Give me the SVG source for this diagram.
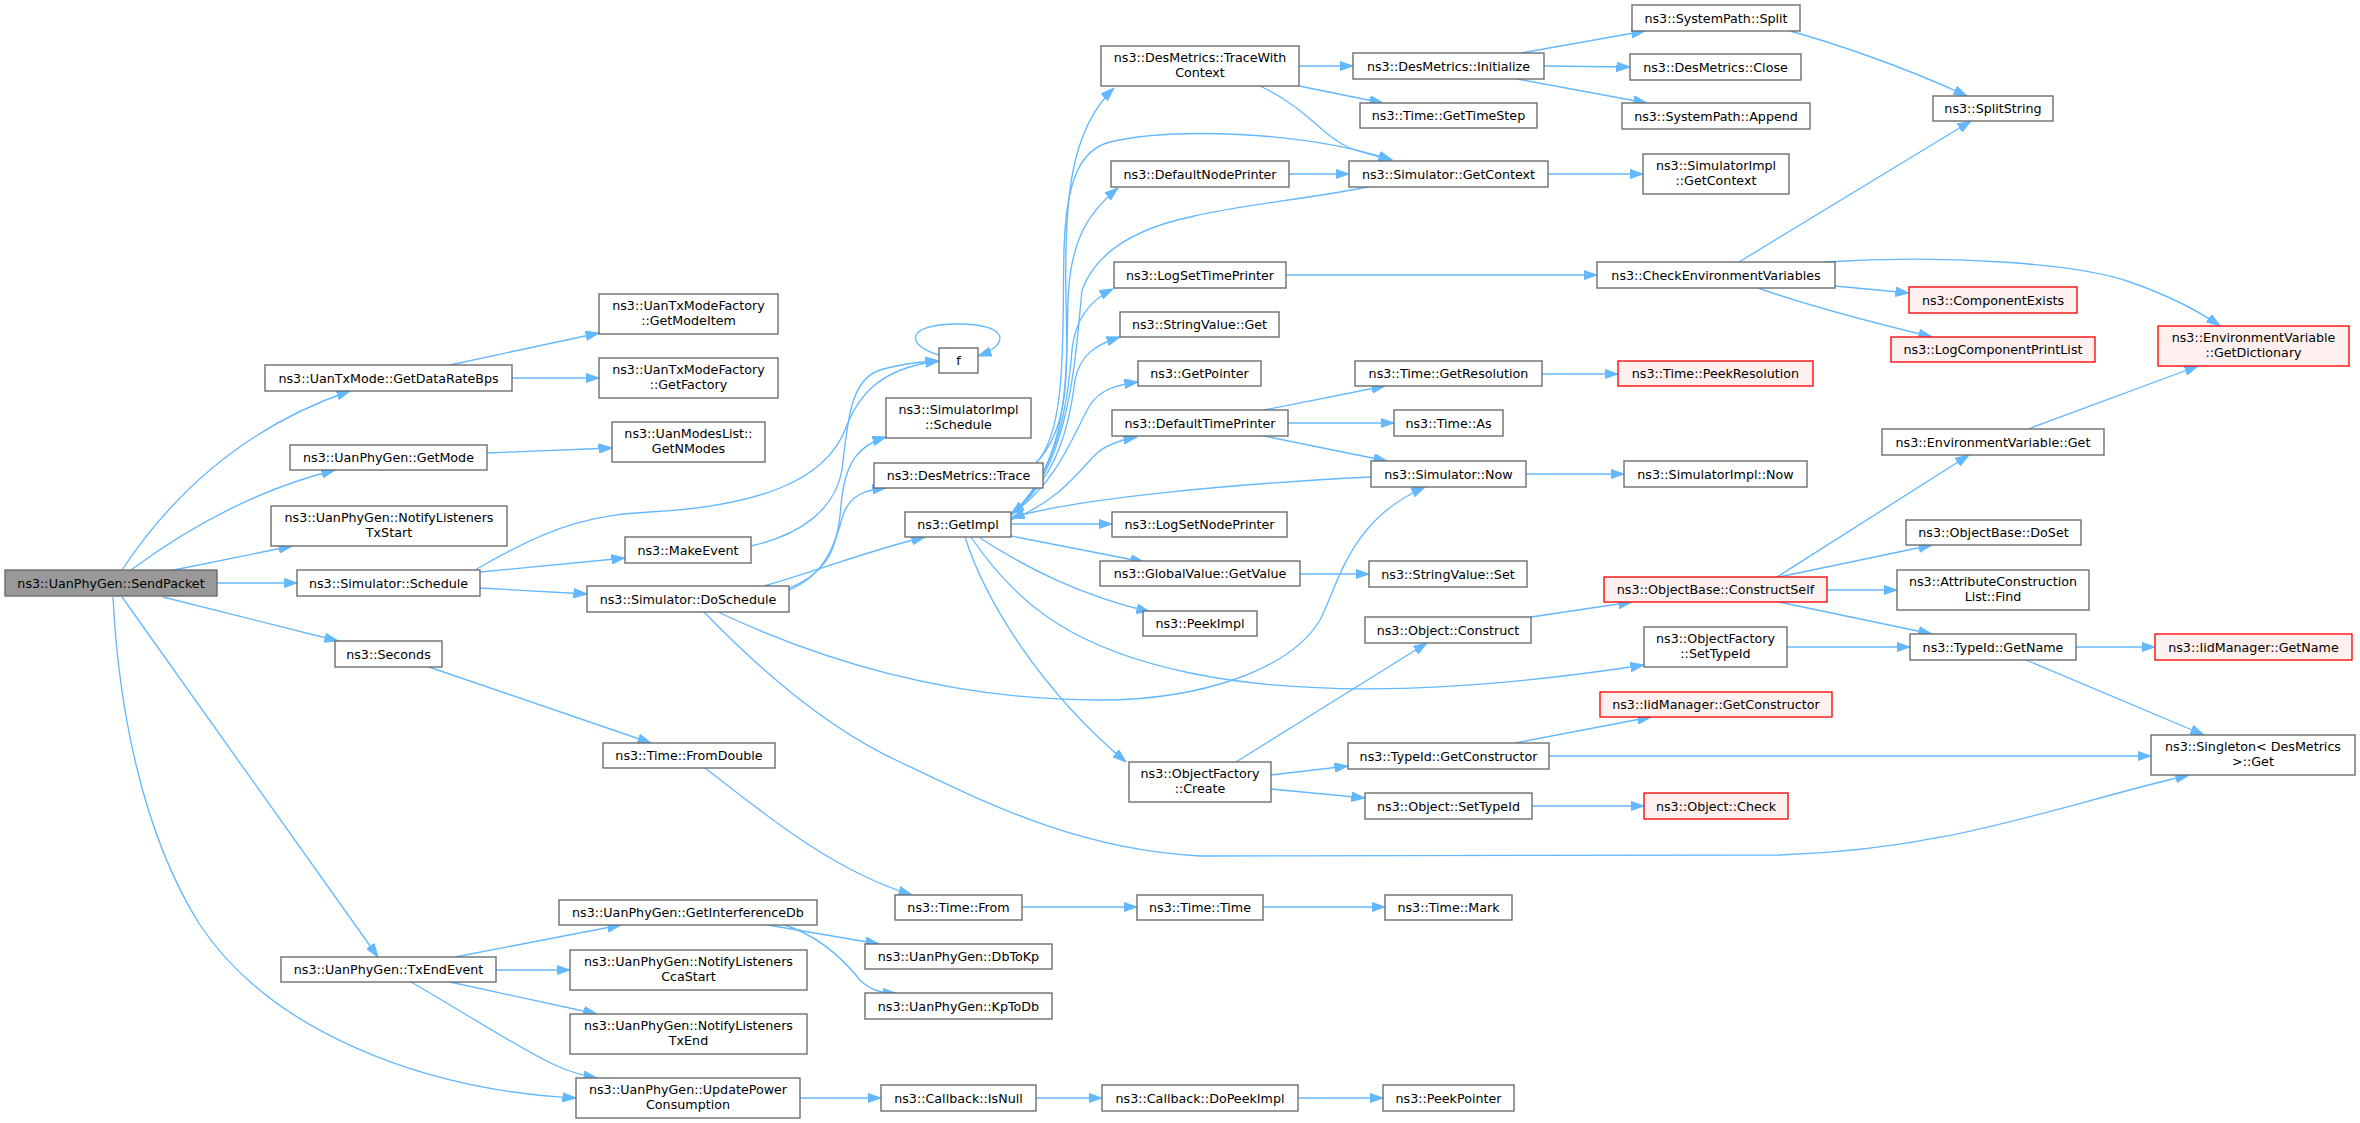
<svg xmlns="http://www.w3.org/2000/svg" width="2360" height="1123" viewBox="0 0 2360 1123">
<style>
.node rect{fill:#ffffff;stroke:#666666;stroke-width:1.33}
.node.red rect{fill:#fff0f0;stroke:#ff0000}
.node.cur rect{fill:#999999;stroke:#666666}
text{font-family:"DejaVu Sans",sans-serif;font-size:12.7px;text-anchor:middle;fill:#000000}
.edges path{fill:none;stroke:#63b8ff;stroke-width:1.33;marker-end:url(#a)}
</style>
<defs>
<marker id="a" markerUnits="userSpaceOnUse" markerWidth="14" markerHeight="10" refX="13.5" refY="5" orient="auto" viewBox="0 0 14 10">
<path d="M0,0.3 L13.5,5 L0,9.7 z" fill="#63b8ff" stroke="#63b8ff" stroke-width="1"/>
</marker>
</defs>
<rect width="2360" height="1123" fill="#ffffff"/>
<g id="edges" class="edges">
<path d="M122,570 C175,490 250,425 350,391"/>
<path d="M131,570 C185,530 255,490 335,470"/>
<path d="M174,570 L292,546"/>
<path d="M217,583 L297,583"/>
<path d="M163,597 L338,641"/>
<path d="M122,597 L378,957"/>
<path d="M113,597 C118,700 140,830 200,925 C270,1030 420,1090 576,1098"/>
<path d="M450,365 L599,333"/>
<path d="M512,378 L599,378"/>
<path d="M487,453 L612,448"/>
<path d="M475,570 C560,520 600,515 650,512 C760,506 825,480 845,430 C858,395 880,368 939,361"/>
<path d="M751,546 C800,535 835,510 842,470 C848,420 850,380 880,370 C905,363 920,362 939,361"/>
<path d="M939,355 C905,345 905,324 958,324 C1010,324 1010,345 978,356"/>
<path d="M480,572 L625,558"/>
<path d="M480,588 L587,594"/>
<path d="M789,588 C830,572 838,545 841,505 C845,460 860,445 886,437"/>
<path d="M789,590 C825,575 835,545 843,515 C850,495 865,490 886,488"/>
<path d="M764,586 C820,570 870,550 925,537"/>
<path d="M718,612 C820,660 950,700 1100,700 C1200,700 1290,670 1320,620 C1340,580 1350,520 1425,487"/>
<path d="M704,612 C760,670 830,730 900,762 C990,805 1080,850 1200,856 L1780,855 C1950,850 2060,805 2189,775"/>
<path d="M965,537 C985,600 1040,690 1126,762"/>
<path d="M971,537 C1020,610 1080,650 1190,673 C1320,700 1480,690 1644,665"/>
<path d="M1036,463 C1068,430 1068,380 1066,300 C1064,200 1070,130 1114,88"/>
<path d="M1036,463 C1068,430 1062,330 1064,250 C1066,180 1080,150 1110,142 C1170,128 1300,130 1392,160"/>
<path d="M1260,86 C1310,110 1320,135 1350,148 C1365,154 1380,157 1392,160"/>
<path d="M1368,187 C1300,200 1240,205 1190,217 C1130,230 1095,255 1082,290 C1075,360 1070,470 1011,514"/>
<path d="M1371,477 C1250,483 1080,497 1011,518"/>
<path d="M1011,515 C1070,460 1066,380 1068,300 C1070,245 1085,215 1118,188"/>
<path d="M1011,515 C1060,470 1068,400 1072,350 C1075,320 1090,300 1113,289"/>
<path d="M1011,515 C1060,475 1070,420 1075,380 C1080,355 1095,345 1120,337"/>
<path d="M1011,515 C1060,480 1075,430 1090,405 C1100,390 1115,385 1138,382"/>
<path d="M1011,520 C1060,500 1080,470 1095,455 C1105,445 1120,440 1137,437"/>
<path d="M1011,524 L1112,524"/>
<path d="M1011,536 L1144,562"/>
<path d="M980,538 C1030,570 1080,595 1150,612"/>
<path d="M1299,66 L1353,66"/>
<path d="M1299,86 L1383,103"/>
<path d="M1521,53 L1645,31"/>
<path d="M1544,66 L1630,67"/>
<path d="M1517,79 L1647,103"/>
<path d="M1790,31 C1830,42 1900,65 1967,96"/>
<path d="M1548,174 L1643,174"/>
<path d="M1289,174 L1349,174"/>
<path d="M1286,275 L1597,275"/>
<path d="M1739,262 C1820,212 1900,165 1971,121"/>
<path d="M1825,262 C1950,254 2080,264 2130,282 C2170,296 2200,312 2220,326"/>
<path d="M1835,286 L1909,293"/>
<path d="M1758,288 C1800,303 1870,322 1932,337"/>
<path d="M1264,410 L1385,386"/>
<path d="M1288,423 L1394,423"/>
<path d="M1264,436 L1387,461"/>
<path d="M1542,374 L1618,374"/>
<path d="M1526,474 L1624,474"/>
<path d="M1300,574 L1369,574"/>
<path d="M1531,617 L1632,602"/>
<path d="M1777,577 L1969,455"/>
<path d="M1779,577 L1932,545"/>
<path d="M1827,590 L1897,590"/>
<path d="M1779,602 L1932,634"/>
<path d="M1787,647 L1910,647"/>
<path d="M2076,647 L2155,647"/>
<path d="M2026,660 L2204,735"/>
<path d="M2028,429 L2198,366"/>
<path d="M1236,762 L1427,643"/>
<path d="M1271,775 L1348,766"/>
<path d="M1271,789 L1365,798"/>
<path d="M1515,743 L1651,717"/>
<path d="M1549,756 L2151,756"/>
<path d="M1532,806 L1644,806"/>
<path d="M429,667 L651,743"/>
<path d="M705,768 C760,810 830,870 912,895"/>
<path d="M1022,907 L1137,907"/>
<path d="M1263,907 L1385,907"/>
<path d="M455,957 L621,925"/>
<path d="M496,970 L570,970"/>
<path d="M450,982 L597,1014"/>
<path d="M411,982 C460,1010 530,1055 555,1065 C570,1072 585,1076 597,1078"/>
<path d="M768,925 L879,944"/>
<path d="M785,925 C815,935 840,955 860,980 C870,990 880,993 896,993"/>
<path d="M800,1098 L881,1098"/>
<path d="M1036,1098 L1102,1098"/>
<path d="M1298,1098 L1383,1098"/>
</g>
<g id="n1" class="node cur"><rect x="5" y="570" width="212" height="26"/><text x="111" y="587.5">ns3::UanPhyGen::SendPacket</text></g>
<g id="n2" class="node"><rect x="265" y="365" width="247" height="26"/><text x="388.5" y="382.5">ns3::UanTxMode::GetDataRateBps</text></g>
<g id="n3" class="node"><rect x="290" y="445" width="197" height="25"/><text x="388.5" y="462">ns3::UanPhyGen::GetMode</text></g>
<g id="n4" class="node"><rect x="271" y="506" width="236" height="40"/><text x="389" y="522">ns3::UanPhyGen::NotifyListeners</text><text x="389" y="537">TxStart</text></g>
<g id="n5" class="node"><rect x="297" y="570" width="183" height="26"/><text x="388.5" y="587.5">ns3::Simulator::Schedule</text></g>
<g id="n6" class="node"><rect x="335" y="641" width="107" height="26"/><text x="388.5" y="658.5">ns3::Seconds</text></g>
<g id="n7" class="node"><rect x="281" y="957" width="215" height="25"/><text x="388.5" y="974">ns3::UanPhyGen::TxEndEvent</text></g>
<g id="n8" class="node"><rect x="599" y="294" width="179" height="40"/><text x="688.5" y="310">ns3::UanTxModeFactory</text><text x="688.5" y="325">::GetModeItem</text></g>
<g id="n9" class="node"><rect x="599" y="358" width="179" height="40"/><text x="688.5" y="374">ns3::UanTxModeFactory</text><text x="688.5" y="389">::GetFactory</text></g>
<g id="n10" class="node"><rect x="612" y="422" width="153" height="40"/><text x="688.5" y="438">ns3::UanModesList::</text><text x="688.5" y="453">GetNModes</text></g>
<g id="n11" class="node"><rect x="939" y="348" width="39" height="25"/><text x="958.5" y="365">f</text></g>
<g id="n12" class="node"><rect x="625" y="537" width="126" height="26"/><text x="688" y="554.5">ns3::MakeEvent</text></g>
<g id="n13" class="node"><rect x="587" y="586" width="202" height="26"/><text x="688" y="603.5">ns3::Simulator::DoSchedule</text></g>
<g id="n14" class="node"><rect x="886" y="398" width="145" height="40"/><text x="958.5" y="414">ns3::SimulatorImpl</text><text x="958.5" y="429">::Schedule</text></g>
<g id="n15" class="node"><rect x="874" y="463" width="169" height="25"/><text x="958.5" y="480">ns3::DesMetrics::Trace</text></g>
<g id="n16" class="node"><rect x="905" y="512" width="106" height="25"/><text x="958" y="529">ns3::GetImpl</text></g>
<g id="n17" class="node"><rect x="603" y="743" width="172" height="25"/><text x="689" y="760">ns3::Time::FromDouble</text></g>
<g id="n18" class="node"><rect x="559" y="900" width="258" height="25"/><text x="688" y="917">ns3::UanPhyGen::GetInterferenceDb</text></g>
<g id="n19" class="node"><rect x="570" y="950" width="237" height="40"/><text x="688.5" y="966">ns3::UanPhyGen::NotifyListeners</text><text x="688.5" y="981">CcaStart</text></g>
<g id="n20" class="node"><rect x="570" y="1014" width="237" height="40"/><text x="688.5" y="1030">ns3::UanPhyGen::NotifyListeners</text><text x="688.5" y="1045">TxEnd</text></g>
<g id="n21" class="node"><rect x="576" y="1078" width="224" height="40"/><text x="688" y="1094">ns3::UanPhyGen::UpdatePower</text><text x="688" y="1109">Consumption</text></g>
<g id="n22" class="node"><rect x="1101" y="46" width="198" height="40"/><text x="1200" y="62">ns3::DesMetrics::TraceWith</text><text x="1200" y="77">Context</text></g>
<g id="n23" class="node"><rect x="1111" y="161" width="178" height="26"/><text x="1200" y="178.5">ns3::DefaultNodePrinter</text></g>
<g id="n24" class="node"><rect x="1114" y="262" width="172" height="26"/><text x="1200" y="279.5">ns3::LogSetTimePrinter</text></g>
<g id="n25" class="node"><rect x="1120" y="312" width="159" height="25"/><text x="1199.5" y="329">ns3::StringValue::Get</text></g>
<g id="n26" class="node"><rect x="1138" y="361" width="123" height="25"/><text x="1199.5" y="378">ns3::GetPointer</text></g>
<g id="n27" class="node"><rect x="1112" y="410" width="176" height="26"/><text x="1200" y="427.5">ns3::DefaultTimePrinter</text></g>
<g id="n28" class="node"><rect x="1112" y="512" width="175" height="25"/><text x="1199.5" y="529">ns3::LogSetNodePrinter</text></g>
<g id="n29" class="node"><rect x="1100" y="561" width="200" height="25"/><text x="1200" y="578">ns3::GlobalValue::GetValue</text></g>
<g id="n30" class="node"><rect x="1143" y="611" width="114" height="25"/><text x="1200" y="628">ns3::PeekImpl</text></g>
<g id="n31" class="node"><rect x="1129" y="762" width="142" height="40"/><text x="1200" y="778">ns3::ObjectFactory</text><text x="1200" y="793">::Create</text></g>
<g id="n32" class="node"><rect x="895" y="895" width="127" height="25"/><text x="958.5" y="912">ns3::Time::From</text></g>
<g id="n33" class="node"><rect x="865" y="944" width="187" height="25"/><text x="958.5" y="961">ns3::UanPhyGen::DbToKp</text></g>
<g id="n34" class="node"><rect x="865" y="993" width="187" height="26"/><text x="958.5" y="1010.5">ns3::UanPhyGen::KpToDb</text></g>
<g id="n35" class="node"><rect x="881" y="1085" width="155" height="26"/><text x="958.5" y="1102.5">ns3::Callback::IsNull</text></g>
<g id="n36" class="node"><rect x="1137" y="895" width="126" height="25"/><text x="1200" y="912">ns3::Time::Time</text></g>
<g id="n37" class="node"><rect x="1102" y="1085" width="196" height="26"/><text x="1200" y="1102.5">ns3::Callback::DoPeekImpl</text></g>
<g id="n38" class="node"><rect x="1632" y="5" width="168" height="26"/><text x="1716" y="22.5">ns3::SystemPath::Split</text></g>
<g id="n39" class="node"><rect x="1353" y="53" width="191" height="26"/><text x="1448.5" y="70.5">ns3::DesMetrics::Initialize</text></g>
<g id="n40" class="node"><rect x="1630" y="54" width="171" height="26"/><text x="1715.5" y="71.5">ns3::DesMetrics::Close</text></g>
<g id="n41" class="node"><rect x="1360" y="103" width="177" height="25"/><text x="1448.5" y="120">ns3::Time::GetTimeStep</text></g>
<g id="n42" class="node"><rect x="1622" y="103" width="188" height="26"/><text x="1716" y="120.5">ns3::SystemPath::Append</text></g>
<g id="n43" class="node"><rect x="1349" y="161" width="199" height="26"/><text x="1448.5" y="178.5">ns3::Simulator::GetContext</text></g>
<g id="n44" class="node"><rect x="1643" y="154" width="146" height="40"/><text x="1716" y="170">ns3::SimulatorImpl</text><text x="1716" y="185">::GetContext</text></g>
<g id="n45" class="node"><rect x="1597" y="262" width="238" height="26"/><text x="1716" y="279.5">ns3::CheckEnvironmentVariables</text></g>
<g id="n46" class="node"><rect x="1355" y="361" width="187" height="25"/><text x="1448.5" y="378">ns3::Time::GetResolution</text></g>
<g id="n47" class="node red"><rect x="1618" y="361" width="195" height="25"/><text x="1715.5" y="378">ns3::Time::PeekResolution</text></g>
<g id="n48" class="node"><rect x="1394" y="410" width="109" height="26"/><text x="1448.5" y="427.5">ns3::Time::As</text></g>
<g id="n49" class="node"><rect x="1371" y="461" width="155" height="26"/><text x="1448.5" y="478.5">ns3::Simulator::Now</text></g>
<g id="n50" class="node"><rect x="1624" y="461" width="183" height="26"/><text x="1715.5" y="478.5">ns3::SimulatorImpl::Now</text></g>
<g id="n51" class="node"><rect x="1369" y="561" width="158" height="26"/><text x="1448" y="578.5">ns3::StringValue::Set</text></g>
<g id="n52" class="node red"><rect x="1604" y="577" width="223" height="25"/><text x="1715.5" y="594">ns3::ObjectBase::ConstructSelf</text></g>
<g id="n53" class="node"><rect x="1365" y="617" width="166" height="26"/><text x="1448" y="634.5">ns3::Object::Construct</text></g>
<g id="n54" class="node"><rect x="1644" y="627" width="143" height="40"/><text x="1715.5" y="643">ns3::ObjectFactory</text><text x="1715.5" y="658">::SetTypeId</text></g>
<g id="n55" class="node red"><rect x="1600" y="692" width="232" height="25"/><text x="1716" y="709">ns3::IidManager::GetConstructor</text></g>
<g id="n56" class="node"><rect x="1348" y="743" width="201" height="26"/><text x="1448.5" y="760.5">ns3::TypeId::GetConstructor</text></g>
<g id="n57" class="node"><rect x="1365" y="793" width="167" height="26"/><text x="1448.5" y="810.5">ns3::Object::SetTypeId</text></g>
<g id="n58" class="node red"><rect x="1644" y="793" width="144" height="26"/><text x="1716" y="810.5">ns3::Object::Check</text></g>
<g id="n59" class="node"><rect x="1385" y="895" width="127" height="25"/><text x="1448.5" y="912">ns3::Time::Mark</text></g>
<g id="n60" class="node"><rect x="1383" y="1085" width="131" height="26"/><text x="1448.5" y="1102.5">ns3::PeekPointer</text></g>
<g id="n61" class="node"><rect x="1933" y="96" width="120" height="25"/><text x="1993" y="113">ns3::SplitString</text></g>
<g id="n62" class="node red"><rect x="1909" y="287" width="168" height="26"/><text x="1993" y="304.5">ns3::ComponentExists</text></g>
<g id="n63" class="node red"><rect x="1891" y="337" width="204" height="25"/><text x="1993" y="354">ns3::LogComponentPrintList</text></g>
<g id="n64" class="node red"><rect x="2158" y="326" width="191" height="40"/><text x="2253.5" y="342">ns3::EnvironmentVariable</text><text x="2253.5" y="357">::GetDictionary</text></g>
<g id="n65" class="node"><rect x="1882" y="429" width="222" height="26"/><text x="1993" y="446.5">ns3::EnvironmentVariable::Get</text></g>
<g id="n66" class="node"><rect x="1906" y="520" width="175" height="25"/><text x="1993.5" y="537">ns3::ObjectBase::DoSet</text></g>
<g id="n67" class="node"><rect x="1897" y="570" width="192" height="40"/><text x="1993" y="586">ns3::AttributeConstruction</text><text x="1993" y="601">List::Find</text></g>
<g id="n68" class="node"><rect x="1910" y="634" width="166" height="26"/><text x="1993" y="651.5">ns3::TypeId::GetName</text></g>
<g id="n69" class="node red"><rect x="2155" y="634" width="197" height="26"/><text x="2253.5" y="651.5">ns3::IidManager::GetName</text></g>
<g id="n70" class="node"><rect x="2151" y="735" width="204" height="40"/><text x="2253" y="751">ns3::Singleton&lt; DesMetrics</text><text x="2253" y="766">&gt;::Get</text></g>
</svg>
